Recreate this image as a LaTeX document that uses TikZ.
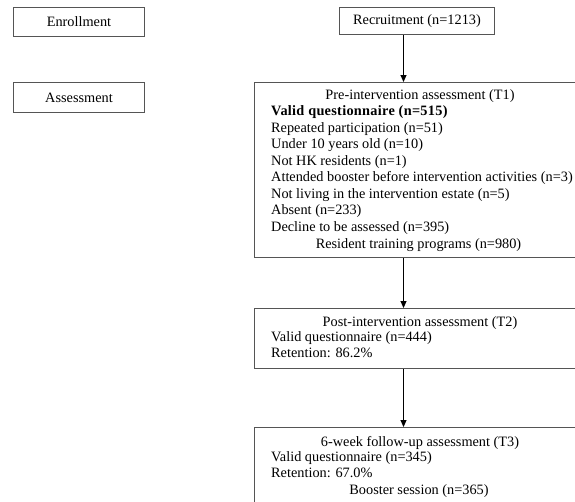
\documentclass[tikz,border=0pt]{standalone}
\usepackage{fontspec}
\setmainfont{Liberation Serif}
\usetikzlibrary{arrows.meta}
\definecolor{boxline}{RGB}{85,85,85}

\tikzset{
  box/.style={draw=boxline, line width=1pt, inner sep=0pt, anchor=north west},
  txt/.style={inner sep=0pt, font=\fontsize{14.3}{16.5}\selectfont},
  arr/.style={-{Triangle[width=6pt,length=7pt]}, line width=0.9pt},
}

\begin{document}
\begin{tikzpicture}[x=1pt,y=-1pt]
\useasboundingbox (0,0) rectangle (575,501);
\clip (0,0) rectangle (575,501);

% stage labels
\node[box, txt, minimum width=131pt, minimum height=29pt] (enroll) at (13,7) {Enrollment};
\node[box, txt, minimum width=131pt, minimum height=30pt] (assess) at (13,82) {Assessment};

% flow boxes (cut at the right edge)
\node[box, txt, minimum width=155pt, minimum height=27pt] (recruit) at (339,7) {Recruitment (n=1213)};
\node[box, minimum width=350pt, minimum height=175pt] (pre) at (254,82) {};
\node[box, minimum width=350pt, minimum height=60pt] (post) at (253.5,308) {};
\node[box, minimum width=350pt, minimum height=100pt] (follow) at (253.5,427) {};

\coordinate (ax) at (403.5,0);
\draw[arr] (recruit.south -| ax) -- (pre.north -| ax);
\draw[arr] (pre.south -| ax) -- (post.north -| ax);
\draw[arr] (post.south -| ax) -- (follow.north -| ax);

% T1
\node[txt, anchor=base] (pretitle) at (420,99) {Pre-intervention assessment (T1)};
\node[txt, anchor=base west] (prevalid) at (271,115.5) {\bfseries\addfontfeature{LetterSpace=2}Valid questionnaire (n=515)};
\foreach \lbl [count=\i] in {Repeated participation (n=51), Under 10 years old (n=10),
    Not HK residents (n=1), Attended booster before intervention activities (n=3),
    Not living in the intervention estate (n=5), Absent (n=233),
    Decline to be assessed (n=395)}
  \node[txt, anchor=base west] (preex\i) at (271,115.5+16.5*\i) {\lbl};
\node[txt, anchor=base] (pretrain) at (418.5,248.5) {Resident training programs (n=980)};

% T2
\node[txt, anchor=base] (posttitle) at (420,326) {Post-intervention assessment (T2)};
\node[txt, anchor=base west] (postvalid) at (271,341.5) {Valid questionnaire (n=444)};
\node[txt, anchor=base west] (postret) at (271,357.5) {Retention: 86.2\%};

% T3
\node[txt, anchor=base] (followtitle) at (420,446) {6-week follow-up assessment (T3)};
\node[txt, anchor=base west] (followvalid) at (271,461) {Valid questionnaire (n=345)};
\node[txt, anchor=base west] (followret) at (271,477.5) {Retention: 67.0\%};
\node[txt, anchor=base] (followboost) at (419,494.5) {Booster session (n=365)};
\end{tikzpicture}
\end{document}
